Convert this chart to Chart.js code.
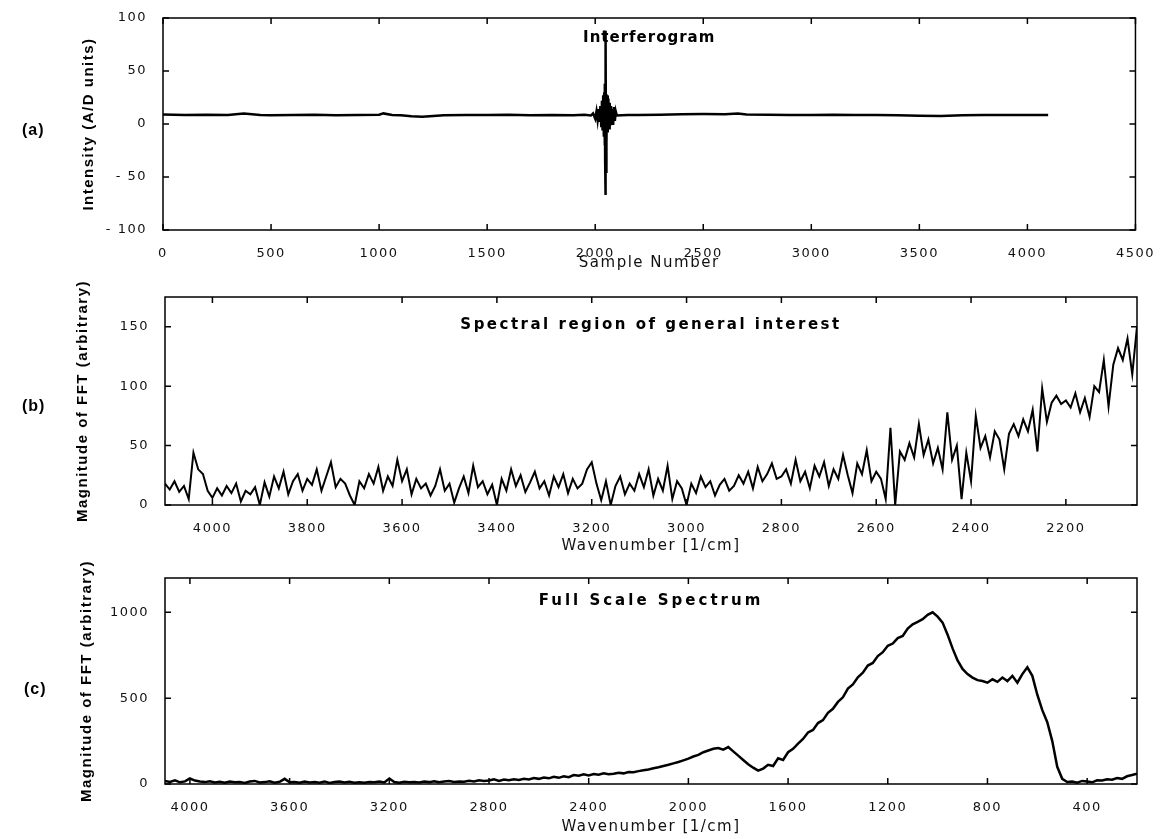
<!DOCTYPE html>
<html>
<head>
<meta charset="utf-8">
<script src="https://cdn.jsdelivr.net/npm/chart.js@4.4.1/dist/chart.umd.min.js"></script>
<style>
  body { margin: 0; background: #fff; }
  #wrap { position: relative; width: 1160px; height: 839px; }
  canvas { position: absolute; left: 0; }
  .tag { position: absolute; font: bold 16px "Liberation Sans", Arial, sans-serif; color: #000; letter-spacing: 1px; }
</style>
</head>
<body>
<div id="wrap">
  <canvas id="ca" width="1160" height="272" style="top:0"></canvas>
  <canvas id="cb" width="1160" height="283" style="top:272px"></canvas>
  <canvas id="cc" width="1160" height="281" style="top:555px"></canvas>
  <div class="tag" style="left:22px;top:121px">(a)</div>
  <div class="tag" style="left:22px;top:397px">(b)</div>
  <div class="tag" style="left:24px;top:680px">(c)</div>
</div>
<script>
// (a) interferogram: sample number vs A/D counts
const ifgX = [0, 100, 200, 300, 374, 450, 500, 600, 700, 800, 900, 1000, 1020, 1060, 1100, 1150, 1200, 1250, 1300, 1400,
  1500, 1600, 1700, 1800, 1900, 1950, 1980, 1990, 2000, 2006, 2011, 2016, 2020, 2024, 2028, 2031, 2034, 2037, 2040,
  2042, 2044, 2045, 2046, 2047, 2048, 2049, 2050, 2051, 2053, 2055, 2058, 2061, 2064, 2067, 2070, 2073, 2076, 2080,
  2083, 2087, 2091, 2095, 2100, 2150, 2200,
  2300, 2400, 2500, 2600, 2660, 2700, 2800, 2900, 3000, 3100, 3200, 3300, 3400, 3500, 3600, 3700, 3800, 3900, 4000, 4096];
const ifgY = [9, 8.5, 8.8, 8.4, 10, 8.6, 8.2, 8.5, 8.7, 8.3, 8.6, 8.8, 10, 8.5, 8.2, 7.2, 6.8, 7.5, 8.3, 8.6,
  8.4, 8.7, 8.3, 8.6, 8.2, 8.8, 8, 10, 5, 12, 4, 14, 2, 17, -2, 22, -6, 27, -12,
  30, -20, 38, -35, 50, -67, 88, -45, 28, -18, 27, -8, 24, -4, 20, 0, 17, 2, 14,
  -1, 16, 3, 12, 8, 8.6, 8.4,
  8.8, 9.2, 9.4, 9.2, 9.8, 9, 8.8, 8.6, 8.5, 8.7, 8.4, 8.6, 8.3, 7.8, 7.5, 8.2, 8.4, 8.6, 8.5, 8.5];
const ifgXTicks = [0, 500, 1000, 1500, 2000, 2500, 3000, 3500, 4000, 4500];
const ifgYTicks = [-100, -50, 0, 50, 100];

// (b) spectral region of general interest, 10 cm-1 spacing from 4100 down
const specStart = 4100, specStep = -10;
const specMag = [
  18, 13, 20, 11, 16, 5, 44, 30, 26, 12,    // 4100
  6, 14, 8, 16, 10, 18, 3, 12, 9, 15,       // 4000
  0, 19, 7, 24, 14, 28, 9, 20, 26, 12,      // 3900
  22, 17, 30, 12, 24, 36, 15, 22, 18, 8,    // 3800
  0, 20, 14, 26, 18, 32, 12, 24, 16, 38,    // 3700
  20, 30, 9, 22, 14, 18, 8, 16, 30, 12,     // 3600
  18, 2, 14, 24, 10, 33, 15, 20, 9, 17,     // 3500
  0, 22, 12, 30, 16, 25, 11, 19, 28, 14,    // 3400
  20, 8, 24, 15, 26, 10, 22, 14, 18, 30,    // 3300
  36, 18, 4, 20, 0, 16, 24, 9, 18, 12,      // 3200
  26, 15, 30, 8, 22, 12, 33, 5, 20, 14,     // 3100
  0, 18, 10, 24, 15, 20, 8, 17, 22, 12,     // 3000
  16, 25, 18, 28, 14, 32, 20, 26, 35, 22,   // 2900
  24, 30, 18, 38, 20, 28, 14, 33, 24, 36,   // 2800
  16, 30, 22, 42, 25, 10, 35, 26, 46, 20,   // 2700
  28, 22, 5, 65, 0, 45, 38, 52, 40, 68,     // 2600
  42, 55, 35, 48, 30, 78, 38, 50, 5, 44,    // 2500
  20, 75, 48, 58, 40, 62, 55, 30, 60, 68,   // 2400
  58, 72, 62, 80, 45, 98, 70, 86, 92, 85,   // 2300
  88, 82, 94, 78, 90, 74, 100, 95, 122, 83, // 2200
  118, 132, 122, 140, 110, 150              // 2100
];
const specXTicks = [4000, 3800, 3600, 3400, 3200, 3000, 2800, 2600, 2400, 2200];
const specYTicks = [0, 50, 100, 150];

// (c) full scale spectrum, 20 cm-1 spacing from 4100 down
const fullStart = 4100, fullStep = -20;
const fullMag = [
  18, 12, 22, 10, 15, 32, 20, 14, 11, 16,             // 4100
  9, 13, 7, 15, 10, 12, 6, 14, 18, 9,                 // 3900
  11, 16, 8, 13, 30, 10, 12, 7, 14, 9,                // 3700
  12, 8, 15, 6, 11, 14, 9, 13, 7, 10,                 // 3500
  8, 12, 10, 14, 9, 32, 11, 7, 13, 10,                // 3300
  12, 9, 15, 11, 16, 10, 14, 18, 12, 15,              // 3100
  13, 19, 15, 22, 17, 20, 28, 18, 26, 22,             // 2900
  28, 24, 31, 27, 35, 30, 38, 33, 42, 36,             // 2700
  45, 40, 52, 48, 56, 50, 58, 54, 62, 57,             // 2500
  60, 66, 62, 70, 68, 75, 80, 84, 92, 98,             // 2300
  105, 112, 120, 128, 138, 148, 160, 170, 185, 195,   // 2100
  205, 210, 200, 215, 190, 165, 140, 115, 95, 78,     // 1900
  90, 112, 105, 150, 140, 185, 205, 235, 262, 300,    // 1700
  315, 355, 372, 415, 438, 478, 505, 556, 580, 622,   // 1500
  648, 690, 705, 745, 768, 805, 818, 850, 862, 905,   // 1300
  930, 945, 960, 985, 1000, 975, 940, 870, 790, 720,  // 1100
  670, 640, 620, 605, 600, 590, 610, 595, 620, 600,   // 900
  630, 590, 640, 680, 630, 520, 430, 360, 250, 100,   // 700
  30, 12, 15, 8, 18, 14, 10, 22, 20, 28,              // 500
  25, 35, 30, 45, 52, 60                              // 300
];
const fullXTicks = [4000, 3600, 3200, 2800, 2400, 2000, 1600, 1200, 800, 400];
const fullYTicks = [0, 500, 1000];

function toPoints(xs, ys) { return ys.map((y, i) => ({ x: xs[i], y: y })); }
function onGrid(start, step, ys) { return ys.map((y, i) => ({ x: start + i * step, y: y })); }

const tickFont = { family: '"DejaVu Sans"', size: 13 };
const xTitleFont = { family: '"DejaVu Sans"', size: 15 };
const yTitleFont = { family: '"Liberation Sans"', size: 15, weight: 'bold' };

// matlab-ish box with inward ticks and a bold title inside the axes
const frame = {
  id: 'frame',
  beforeDraw(chart) { chart.ctx.letterSpacing = '1.5px'; },
  beforeDatasetsDraw(chart, args, opts) {
    const { ctx, chartArea: a } = chart;
    ctx.save();
    ctx.letterSpacing = opts.spacing;
    ctx.font = 'bold 15px "DejaVu Sans"';
    ctx.fillStyle = '#000';
    ctx.textAlign = 'center';
    ctx.textBaseline = 'middle';
    ctx.fillText(opts.title, (a.left + a.right) / 2, a.top + opts.dy);
    ctx.restore();
  },
  afterDatasetsDraw(chart) {
    const { ctx, chartArea: a, scales } = chart;
    ctx.save();
    ctx.strokeStyle = '#000';
    ctx.lineWidth = 1.5;
    ctx.strokeRect(a.left, a.top, a.right - a.left, a.bottom - a.top);
    ctx.beginPath();
    scales.x.ticks.forEach(t => {
      const px = scales.x.getPixelForValue(t.value);
      ctx.moveTo(px, a.bottom); ctx.lineTo(px, a.bottom - 6);
      ctx.moveTo(px, a.top); ctx.lineTo(px, a.top + 6);
    });
    scales.y.ticks.forEach(t => {
      const py = scales.y.getPixelForValue(t.value);
      ctx.moveTo(a.left, py); ctx.lineTo(a.left + 6, py);
      ctx.moveTo(a.right, py); ctx.lineTo(a.right - 6, py);
    });
    ctx.stroke();
    ctx.restore();
  }
};

function makeChart(id, pts, o) {
  return new Chart(document.getElementById(id), {
    type: 'line',
    data: { datasets: [{ data: pts, borderColor: '#000', borderWidth: o.lw, pointRadius: 0, tension: 0 }] },
    options: {
      responsive: false,
      animation: false,
      layout: { padding: { left: o.padLeft, right: 23, top: o.padTop, bottom: 0 } },
      plugins: {
        legend: { display: false },
        tooltip: { enabled: false },
        frame: { title: o.title, dy: o.dy, spacing: o.spacing }
      },
      scales: {
        x: {
          type: 'linear', min: o.xMin, max: o.xMax, reverse: o.reverse,
          grid: { display: false }, border: { display: false },
          afterBuildTicks(s) { s.ticks = o.xTicks.map(v => ({ value: v })); },
          ticks: { autoSkip: false, maxRotation: 0, padding: 8, color: '#111', font: tickFont,
            callback: v => String(v) },
          title: { display: true, text: o.xTitle, color: '#111', font: xTitleFont, padding: 0 },
          afterFit(s) { s.height = o.xAxisH; }
        },
        y: {
          min: o.yMin, max: o.yMax,
          grid: { display: false }, border: { display: false },
          afterBuildTicks(s) { s.ticks = o.yTicks.map(v => ({ value: v })); },
          ticks: { padding: 8, color: '#111', font: tickFont,
            callback: v => (v < 0 ? '- ' + Math.abs(v) : String(v)) },
          title: { display: true, text: o.yTitle, color: '#000', font: yTitleFont, padding: 0 },
          afterFit(s) { s.width = o.yAxisW; }
        }
      }
    },
    plugins: [frame]
  });
}

makeChart('ca', toPoints(ifgX, ifgY), {
  lw: 2.5, padLeft: 80, padTop: 18, yAxisW: 83, xAxisH: 42,
  xMin: 0, xMax: 4500, xTicks: ifgXTicks, reverse: false,
  yMin: -100, yMax: 100, yTicks: ifgYTicks,
  xTitle: 'Sample Number', yTitle: 'Intensity (A/D units)',
  title: 'Interferogram', dy: 20, spacing: '1px'
});

makeChart('cb', onGrid(specStart, specStep, specMag), {
  lw: 2, padLeft: 74, padTop: 25, yAxisW: 91, xAxisH: 50,
  xMin: 2050, xMax: 4100, xTicks: specXTicks, reverse: true,
  yMin: 0, yMax: 175, yTicks: specYTicks,
  xTitle: 'Wavenumber [1/cm]', yTitle: 'Magnitude of FFT (arbitrary)',
  title: 'Spectral region of general interest', dy: 28, spacing: '2.5px'
});

makeChart('cc', onGrid(fullStart, fullStep, fullMag), {
  lw: 2.5, padLeft: 78, padTop: 23, yAxisW: 87, xAxisH: 52,
  xMin: 200, xMax: 4100, xTicks: fullXTicks, reverse: true,
  yMin: 0, yMax: 1200, yTicks: fullYTicks,
  xTitle: 'Wavenumber [1/cm]', yTitle: 'Magnitude of FFT (arbitrary)',
  title: 'Full Scale Spectrum', dy: 23, spacing: '3px'
});
</script>
</body>
</html>
